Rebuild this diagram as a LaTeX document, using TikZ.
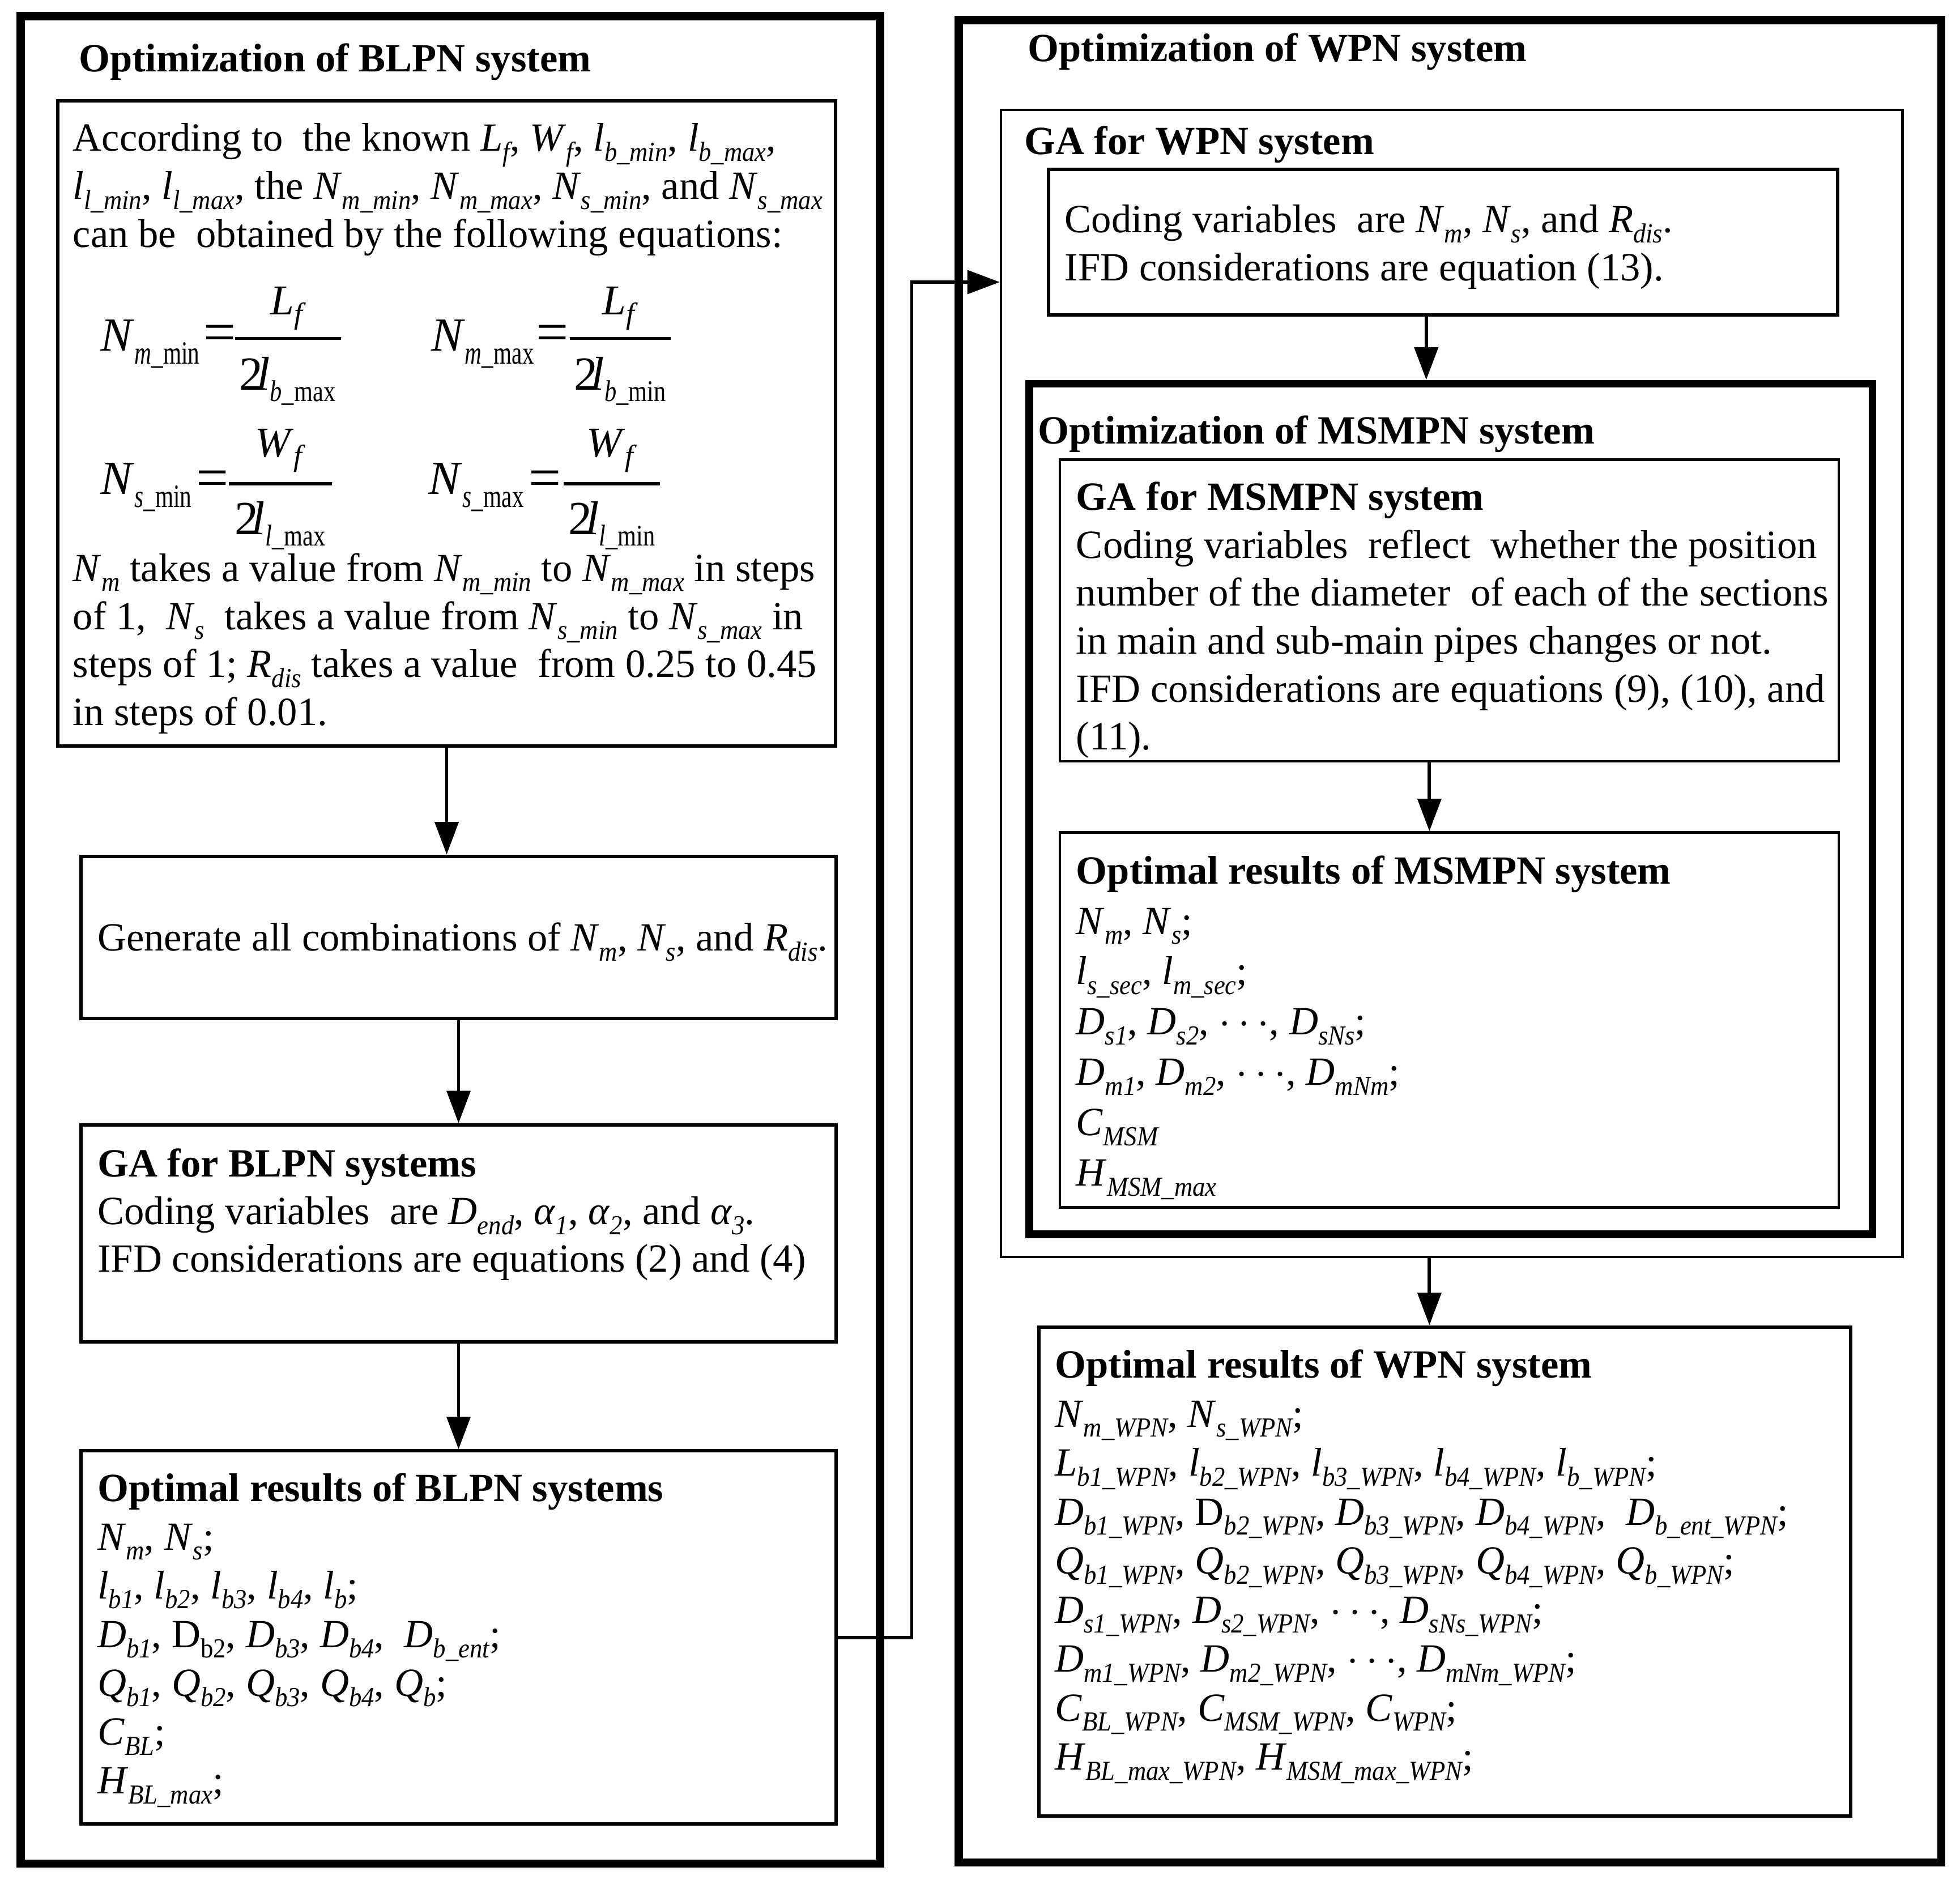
\documentclass[tikz,border=0pt]{standalone}
\usepackage{fontspec}
\usepackage{graphicx}
\setmainfont{Liberation Serif}
\usetikzlibrary{arrows.meta,fit}

\newcommand\sbs[1]{\raisebox{-4pt}{\fontsize{11}{11}\selectfont\itshape\scalebox{0.92}[1]{#1}}}
\newcommand\sbu[1]{\raisebox{-4pt}{\fontsize{11}{11}\selectfont\scalebox{0.92}[1]{#1}}}
\newcommand\V[2]{\textit{#1}\sbs{#2}}
\newcommand\eqsub[2]{\raisebox{-5.3pt}{\fontsize{13}{13}\selectfont\scalebox{0.72}[1]{\textit{#1}\_\textup{#2}}}}
\newcommand\densub[2]{\raisebox{-4.6pt}{\fontsize{12}{12}\selectfont\scalebox{0.8}[1]{\textit{#1}\_\textup{#2}}}}
\newcommand\numsub[1]{\raisebox{-3.6pt}{\fontsize{12}{12}\selectfont\textit{#1}}}
\newcommand\Lines[2]{\vtop{\baselineskip=#1\lineskiplimit=-1000pt\lineskip=0pt\relax #2}}

\begin{document}
\begin{tikzpicture}[x=0.5pt,y=-0.5pt,
  heavybox/.style={draw, line width=3.3pt, rectangle, inner sep=0pt},
  midbox/.style={draw, line width=3.1pt, rectangle, inner sep=0pt},
  box/.style={draw, line width=1.35pt, rectangle, inner sep=0pt},
  lightbox/.style={draw, line width=1.0pt, rectangle, inner sep=0pt},
  txt/.style={inner sep=0pt, anchor=base west, font=\fontsize{16}{19.25}\selectfont},
  eqbig/.style={inner sep=0pt, font=\fontsize{19}{19}\selectfont},
  eqsign/.style={inner sep=0pt, anchor=center, font=\fontsize{23}{23}\selectfont},
  eqnum/.style={inner sep=0pt, anchor=base, font=\fontsize{17}{17}\selectfont},
  bar/.style={line width=1.2pt},
  conn/.style={line width=1.3pt, -{Triangle[length=13pt,width=9.4pt]}}]

\fill[white] (0,0) rectangle (1568,1507);
\useasboundingbox (0,0) rectangle (1568,1507);

% ---------------- outer frames
\node[heavybox, fit={(16.5,13) (704,1491)}] (blpn) {};
\node[heavybox, fit={(767,16) (1553,1490)}] (wpn) {};

\node[txt] (tblpn) at (62.7,57.4) {\textbf{Optimization of BLPN system}};
\node[txt] (twpn) at (822,49.4) {\textbf{Optimization of WPN system}};

% ---------------- left column boxes
\node[box, fit={(46.2,80.5) (668.5,597)}] (b1) {};
\node[box, fit={(64.7,685) (669,814.6)}] (b2) {};
\node[box, fit={(64.7,900) (669,1073.4)}] (b3) {};
\node[box, fit={(64.7,1160.8) (669,1459.3)}] (b4) {};

\node[txt] (b1top) at (58,121) {\Lines{19.25pt}{%
\hbox{According to\ \ the known \V{L}{f}, \V{W}{f}, \V{l}{b\_min}, \V{l}{b\_max},}%
\hbox{\V{l}{l\_min}, \V{l}{l\_max}, the \V{N}{m\_min}, \V{N}{m\_max}, \V{N}{s\_min}, and \V{N}{s\_max}}%
\hbox{can be\ \ obtained by the following equations:}}};

% equations
\node[eqbig, anchor=base west] (e1) at (80,280.7) {\textit{N}\eqsub{m}{min}};
\node[eqsign] (e1q) at (176,270.7) {=};
\draw[bar] (188,270.7) -- (273,270.7);
\node[eqnum] (e1t) at (230.5,251.8) {\textit{L}\numsub{f}};
\node[eqbig, anchor=base] (e1b) at (230,312) {2\kern-2.5pt\textit{l}\densub{b}{max}};

\node[eqbig, anchor=base west] (e2) at (344.5,280.7) {\textit{N}\eqsub{m}{max}};
\node[eqsign] (e2q) at (442,270.7) {=};
\draw[bar] (456,270.7) -- (536.6,270.7);
\node[eqnum] (e2t) at (496.3,251.8) {\textit{L}\numsub{f}};
\node[eqbig, anchor=base] (e2b) at (496,312) {2\kern-2.5pt\textit{l}\densub{b}{min}};

\node[eqbig, anchor=base west] (e3) at (80,395.4) {\textit{N}\eqsub{s}{min}};
\node[eqsign] (e3q) at (170,387) {=};
\draw[bar] (183,387) -- (265.4,387);
\node[eqnum] (e3t) at (224.2,365.5) {\textit{W}\numsub{f}};
\node[eqbig, anchor=base] (e3b) at (224,427.6) {2\kern-2.5pt\textit{l}\densub{l}{max}};

\node[eqbig, anchor=base west] (e4) at (342.6,395.4) {\textit{N}\eqsub{s}{max}};
\node[eqsign] (e4q) at (436,387) {=};
\draw[bar] (451,387) -- (528,387);
\node[eqnum] (e4t) at (489.5,365.5) {\textit{W}\numsub{f}};
\node[eqbig, anchor=base] (e4b) at (489.5,427.6) {2\kern-2.5pt\textit{l}\densub{l}{min}};

\node[txt] (b1bot) at (58,465) {\Lines{19.25pt}{%
\hbox{\V{N}{m} takes a value from \V{N}{m\_min} to \V{N}{m\_max} in steps}%
\hbox{of 1,\ \ \V{N}{s}\ \ takes a value from \V{N}{s\_min} to \V{N}{s\_max} in}%
\hbox{steps of 1; \V{R}{dis} takes a value\ \ from 0.25 to 0.45}%
\hbox{in steps of 0.01.}}};

\node[txt] (b2t) at (77.7,760.6) {Generate all combinations of \V{N}{m}, \V{N}{s}, and \V{R}{dis}.};

\node[txt] (b3t) at (77.7,941.5) {\Lines{19pt}{%
\hbox{\textbf{GA for BLPN systems}}%
\hbox{Coding variables\ \ are \V{D}{end}, \V{α}{1}, \V{α}{2}, and \V{α}{3}.}%
\hbox{IFD considerations are equations (2) and (4)}}};

\node[txt] (b4t) at (77.7,1201) {\Lines{19.5pt}{%
\hbox{\textbf{Optimal results of BLPN systems}}%
\hbox{\V{N}{m}, \V{N}{s};}%
\hbox{\V{l}{b1}, \V{l}{b2}, \V{l}{b3}, \V{l}{b4}, \V{l}{b};}%
\hbox{\V{D}{b1}, D\sbu{b2}, \V{D}{b3}, \V{D}{b4},\ \ \V{D}{b\_ent};}%
\hbox{\V{Q}{b1}, \V{Q}{b2}, \V{Q}{b3}, \V{Q}{b4}, \V{Q}{b};}%
\hbox{\V{C}{BL};}%
\hbox{\V{H}{BL\_max};}}};

% ---------------- right column boxes
\node[lightbox, fit={(800.8,88) (1522,1005.5)}] (gaw) {};
\node[txt] (gawt) at (819,123.4) {\textbf{GA for WPN system}};
\node[box, fit={(838.7,135.5) (1470,252)}] (cod) {};
\node[txt] (codt) at (851.5,186) {\Lines{19.25pt}{%
\hbox{Coding variables\ \ are \V{N}{m}, \V{N}{s}, and \V{R}{dis}.}%
\hbox{IFD considerations are equation (13).}}};

\node[midbox, fit={(823.5,307) (1498,987.5)}] (msm) {};
\node[txt] (msmt) at (830,355) {\textbf{Optimization of MSMPN system}};

\node[lightbox, fit={(848,367.8) (1471,609)}] (gam) {};
\node[txt] (gamt) at (860.6,408) {\Lines{19.2pt}{%
\hbox{\textbf{GA for MSMPN system}}%
\hbox{Coding variables\ \ reflect\ \ whether the position}%
\hbox{number of the diameter\ \ of each of the sections}%
\hbox{in main and sub-main pipes changes or not.}%
\hbox{IFD considerations are equations (9), (10), and}%
\hbox{(11).}}};

\node[lightbox, fit={(848,666) (1471,966)}] (opm) {};
\node[txt] (opmt) at (860.6,707) {\Lines{20.15pt}{%
\hbox{\textbf{Optimal results of MSMPN system}}%
\hbox{\V{N}{m}, \V{N}{s};}%
\hbox{\V{l}{s\_sec}, \V{l}{m\_sec};}%
\hbox{\V{D}{s1}, \V{D}{s2}, $\cdots$, \V{D}{sNs};}%
\hbox{\V{D}{m1}, \V{D}{m2}, $\cdots$, \V{D}{mNm};}%
\hbox{\V{C}{MSM}}%
\hbox{\V{H}{MSM\_max}}}};

\node[box, fit={(831,1061.6) (1480.5,1453)}] (opw) {};
\node[txt] (opwt) at (843.6,1102.5) {\Lines{19.6pt}{%
\hbox{\textbf{Optimal results of WPN system}}%
\hbox{\V{N}{m\_WPN}, \V{N}{s\_WPN};}%
\hbox{\V{L}{b1\_WPN}, \V{l}{b2\_WPN}, \V{l}{b3\_WPN}, \V{l}{b4\_WPN}, \V{l}{b\_WPN};}%
\hbox{\V{D}{b1\_WPN}, D\sbs{b2\_WPN}, \V{D}{b3\_WPN}, \V{D}{b4\_WPN},\ \ \V{D}{b\_ent\_WPN};}%
\hbox{\V{Q}{b1\_WPN}, \V{Q}{b2\_WPN}, \V{Q}{b3\_WPN}, \V{Q}{b4\_WPN}, \V{Q}{b\_WPN};}%
\hbox{\V{D}{s1\_WPN}, \V{D}{s2\_WPN}, $\cdots$, \V{D}{sNs\_WPN};}%
\hbox{\V{D}{m1\_WPN}, \V{D}{m2\_WPN}, $\cdots$, \V{D}{mNm\_WPN};}%
\hbox{\V{C}{BL\_WPN}, \V{C}{MSM\_WPN}, \V{C}{WPN};}%
\hbox{\V{H}{BL\_max\_WPN}, \V{H}{MSM\_max\_WPN};}}};

% ---------------- connectors
\coordinate (bend) at (729.4,225.7);
\coordinate (xa) at (1141,0);
\coordinate (xb) at (1143.5,0);

\draw[conn] (b1.south) -- (b1.south |- b2.north);
\draw[conn] (b2.south) -- (b3.north);
\draw[conn] (b3.south) -- (b4.north);
\draw[conn] (b4.east) -| (bend) -- (bend -| gaw.west);
\draw[conn] (xa |- cod.south) -- (xa |- msm.north);
\draw[conn] (xb |- gam.south) -- (xb |- opm.north);
\draw[conn] (xb |- gaw.south) -- (xb |- opw.north);

\end{tikzpicture}
\end{document}
